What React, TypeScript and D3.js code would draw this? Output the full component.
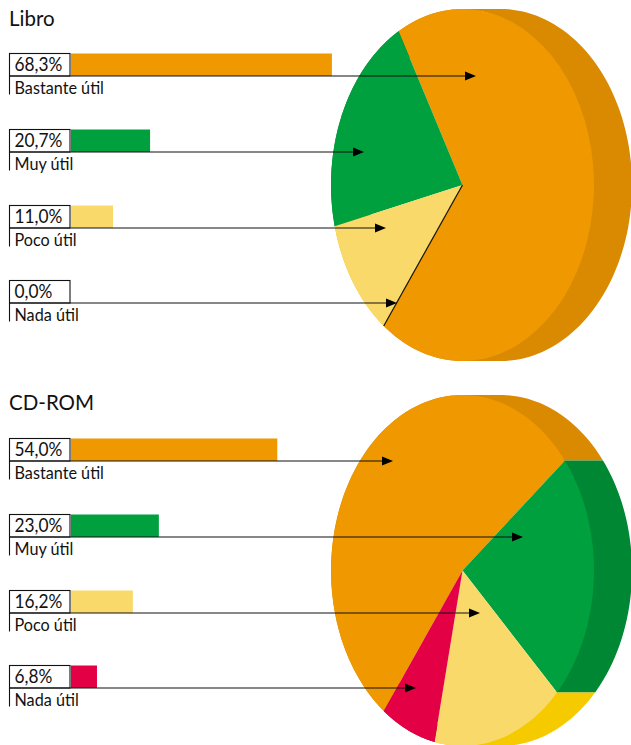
import React from "react";
import * as d3 from "d3";

const categories = ["Bastante útil", "Muy útil", "Poco útil", "Nada útil"];
const libroValues = [68.3, 20.7, 11.0, 0.0];
const cdromValues = [54.0, 23.0, 16.2, 6.8];
const valueLabelsLibro = ["68,3%", "20,7%", "11,0%", "0,0%"];
const valueLabelsCdrom = ["54,0%", "23,0%", "16,2%", "6,8%"];
const libroArrowTips = [476, 364, 386, 397];
const cdromArrowTips = [393, 523, 480, 416];
const libroRowTops = [53.5, 129.5, 205.5, 280.5];
const cdromRowTops = [438.5, 514.5, 590.5, 665.5];
const libroPieOrder = [3, 2, 1, 0];
const cdromPieOrder = [0, 1, 2, 3];
const frontColors = ["#f09800", "#00a03e", "#fad96b", "#e30045"];
const sideColors = ["#d98a00", "#008733", "#f5cb00", "#b80038"];

const START = (216.8 * Math.PI) / 180;
const RX = 131.5;
const DEPTH = 38;
const barX = d3.scaleLinear().domain([0, 100]).range([0, 382]);

type PanelProps = {
  title: string;
  titleY: number;
  rowTops: number[];
  cy: number;
  ry: number;
  values: number[];
  labels: string[];
  tips: number[];
  order: number[];
};

function Panel({ title, titleY, rowTops, cy, ry, values, labels, tips, order }: PanelProps) {
  const cx = 462.5;
  const pie = d3
    .pie<number>()
    .sort((a, b) => order.indexOf(a) - order.indexOf(b))
    .value((i) => values[i])
    .startAngle(START)
    .endAngle(START + Math.PI * 2);
  const arcs = pie([0, 1, 2, 3]);
  const arc = d3.arc<d3.PieArcDatum<number>>().innerRadius(0).outerRadius(1);
  const toXY = (a: number): [number, number] => [cx + RX * Math.sin(a), cy - ry * Math.cos(a)];

  // the side is the front arc swept to the right: one small quad per arc step,
  // tucked slightly under the front face on the right half to avoid a seam
  const sidePath = (d: d3.PieArcDatum<number>) => {
    const steps = 120;
    const pts = d3.range(0, steps + 1).map((k) => toXY(d.startAngle + ((d.endAngle - d.startAngle) * k) / steps));
    const tuck = (x: number) => (x > cx ? x - 2 : x);
    return d3
      .range(0, steps)
      .map((k) => {
        const [a, b] = [pts[k], pts[k + 1]];
        const quad: [number, number][] = [
          [tuck(a[0]), a[1]],
          [tuck(b[0]), b[1]],
          [b[0] + DEPTH, b[1]],
          [a[0] + DEPTH, a[1]],
        ];
        if (d3.polygonArea(quad) < 0) quad.reverse();
        return d3.line()(quad) + "Z";
      })
      .join("");
  };
  const sector = (d: d3.PieArcDatum<number>) => arc(d) as string;

  return (
    <g>
      <text x={9} y={titleY} fontFamily="Lato" fontSize={20.5} fill="#111">
        {title}
      </text>
      {arcs.map((d) => (
        <path key={`s${d.data}`} d={sidePath(d)} fill={sideColors[d.data]} />
      ))}
      {arcs.map((d) => (
        <path
          key={`f${d.data}`}
          transform={`translate(${cx},${cy}) scale(${RX},${ry})`}
          d={sector(d)}
          fill={frontColors[d.data]}
        />
      ))}
      {arcs
        .filter((d) => values[d.data] === 0)
        .map((d) => {
          const [x, y] = toXY(d.startAngle);
          return <line key="zero" x1={cx} y1={cy} x2={x} y2={y} stroke="#111" strokeWidth={1.2} />;
        })}
      {categories.map((c, i) => {
        const y = rowTops[i];
        const h = 22.5;
        const lineY = y + h;
        return (
          <g key={c}>
            <rect x={71} y={y} width={barX(values[i])} height={h} fill={frontColors[i]} />
            <rect x={9.5} y={y} width={60.5} height={h} fill="#fff" stroke="#111" strokeWidth={1.1} />
            <line x1={9.5} x2={9.5} y1={lineY} y2={lineY + 18.5} stroke="#111" strokeWidth={1.1} />
            <line x1={9.5} x2={tips[i] - 10} y1={lineY} y2={lineY} stroke="#111" strokeWidth={1.2} />
            <path
              d={d3.line()([
                [tips[i], lineY],
                [tips[i] - 11, lineY - 4.5],
                [tips[i] - 11, lineY + 4.5],
              ]) + "Z"}
              fill="#000"
            />
            <text transform={`translate(14.5,${y + 17}) scale(0.91,1)`} fontFamily="Lato" fontSize={19} fill="#111">
              {labels[i]}
            </text>
            <text transform={`translate(14.5,${lineY + 18}) scale(0.9,1)`} fontFamily="Lato" fontSize={18} fill="#111">
              {c}
            </text>
          </g>
        );
      })}
    </g>
  );
}

export default function App() {
  return (
    <svg
      width={631}
      height={745}
      viewBox="0 0 631 745"
      style={{ position: "absolute", left: 0, top: 0, display: "block" }}
    >
      <Panel title="Libro" titleY={26} rowTops={libroRowTops} cy={185} ry={176} values={libroValues} labels={valueLabelsLibro} tips={libroArrowTips} order={libroPieOrder} />
      <Panel title="CD-ROM" titleY={410} rowTops={cdromRowTops} cy={570.5} ry={175.5} values={cdromValues} labels={valueLabelsCdrom} tips={cdromArrowTips} order={cdromPieOrder} />
    </svg>
  );
}
